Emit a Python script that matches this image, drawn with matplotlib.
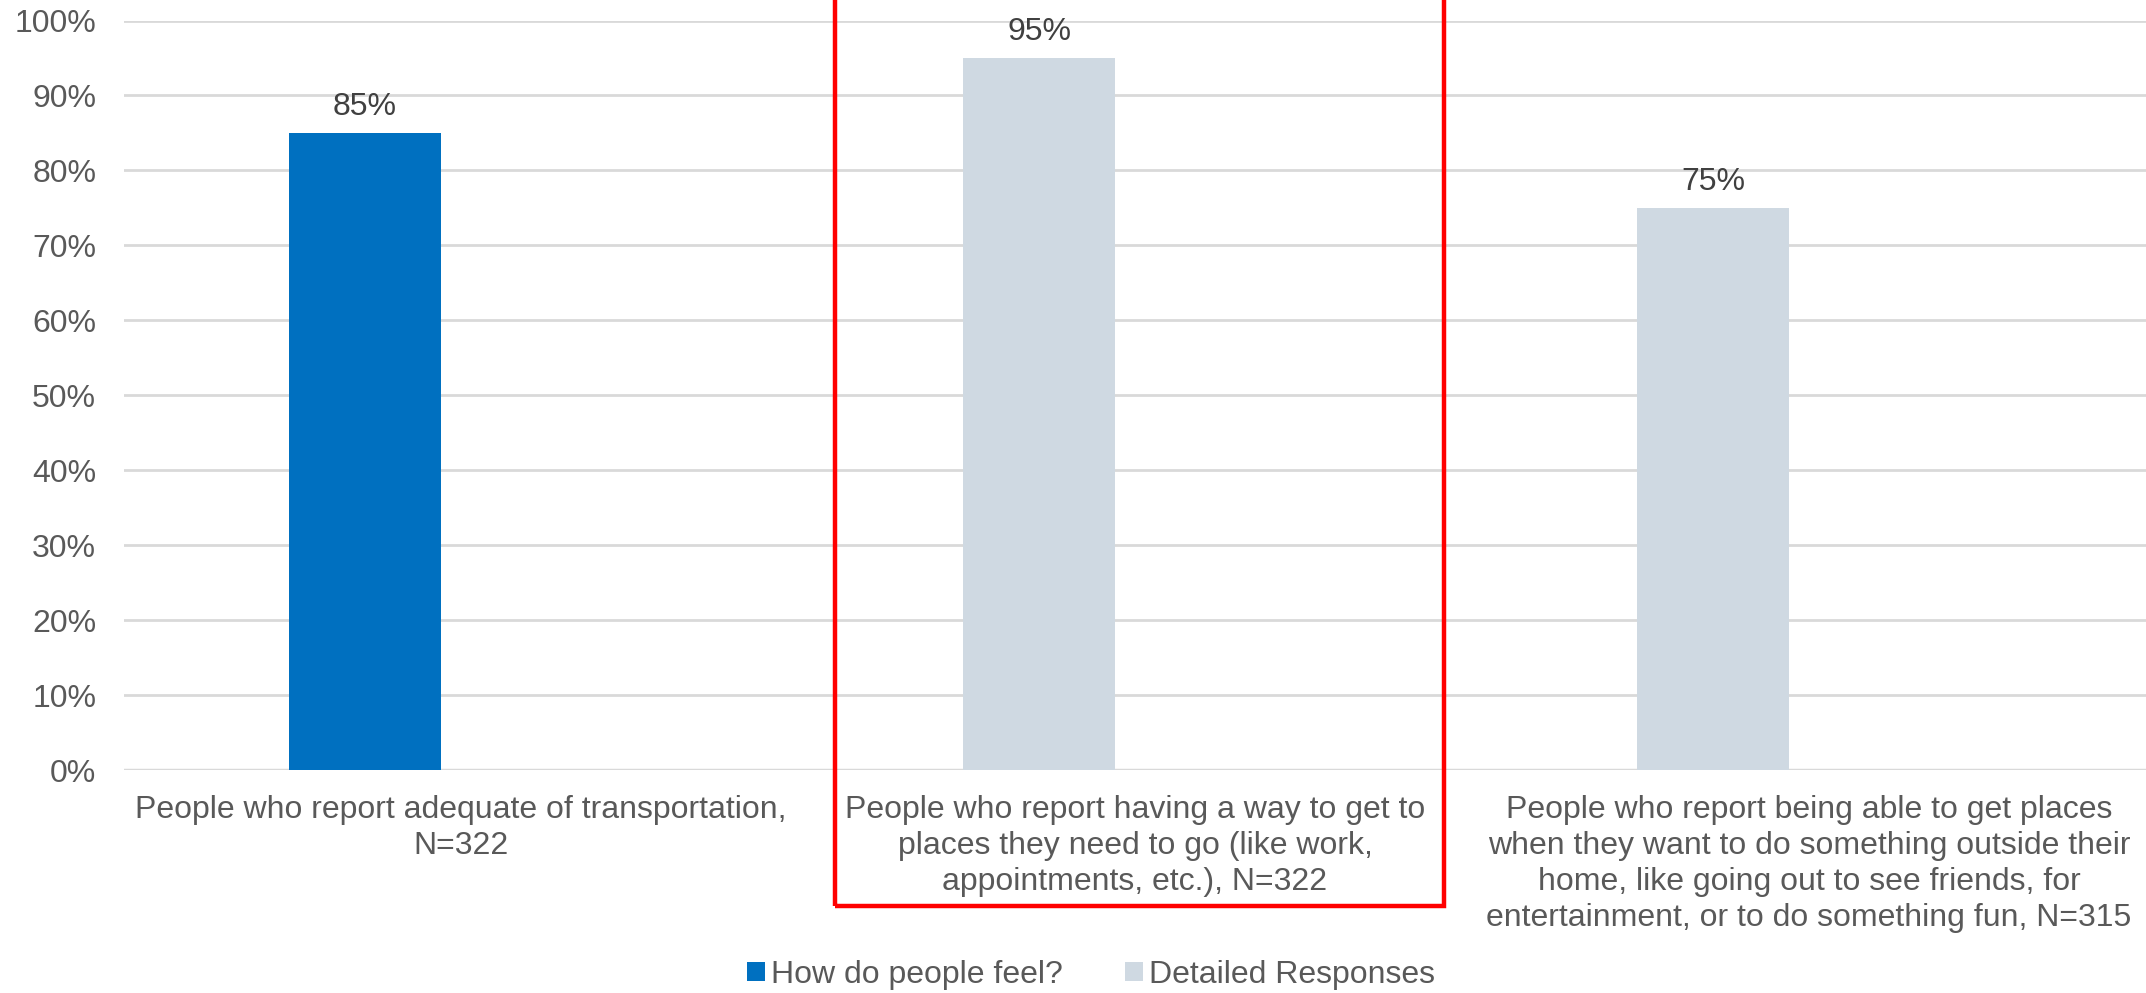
import matplotlib
matplotlib.use("Agg")
import matplotlib.pyplot as plt
from matplotlib.patches import Rectangle, Patch
from matplotlib.ticker import PercentFormatter

plt.rcParams['font.family'] = ['Liberation Sans', 'DejaVu Sans']

categories = [
    "People who report adequate of transportation,\nN=322",
    "People who report having a way to get to\nplaces they need to go (like work,\nappointments, etc.), N=322",
    "People who report being able to get places\nwhen they want to do something outside their\nhome, like going out to see friends, for\nentertainment, or to do something fun, N=315",
]
series_names = ["How do people feel?", "Detailed Responses"]
feel_values = [85, None, None]
detail_values = [None, 95, 75]
series_colors = ["#0070C0", "#CFD9E2"]

FS = 23
W, H = 2146, 993
fig = plt.figure(figsize=(W / 100, H / 100), dpi=100)
ax = fig.add_axes([124 / W, 1 - 770 / H, 1 - 124 / W, (770 - 20.5) / H])

offset = -0.1424
width = 0.2255
for vals, color in zip([feel_values, detail_values], series_colors):
    for i, v in enumerate(vals):
        if v is None:
            continue
        ax.bar(i + offset, v, width=width, color=color, zorder=3)
        ax.annotate(f"{v}%", (i + offset, v), xytext=(0, 8), textcoords="offset points",
                    ha="center", va="bottom", fontsize=FS, color="#404040")

ax.set_xlim(-0.5, 2.5)
ax.set_ylim(0, 100)
ax.set_yticks(range(0, 101, 10))
ax.yaxis.set_major_formatter(PercentFormatter(decimals=0))
ax.set_xticks(range(len(categories)))
ax.set_xticklabels(categories, linespacing=1.26)
ax.tick_params(axis="both", length=0, labelsize=FS, labelcolor="#595959")
ax.tick_params(axis="y", pad=20)
ax.tick_params(axis="x", pad=18)
ax.grid(axis="y", color="#D9D9D9", linewidth=2, zorder=0)
for s in ax.spines.values():
    s.set_visible(False)
ax.axhline(0, color="#D9D9D9", linewidth=2.5, zorder=2)

# red highlight box
fig.patches.append(Rectangle((835 / W, 1 - 906 / H), (1444 - 835) / W, 0.2 + 906 / H,
                             transform=fig.transFigure, fill=False, edgecolor="#FF0000",
                             linewidth=3.2, zorder=10))

handles = [Patch(facecolor=c, edgecolor="none") for c in series_colors]
fig.legend(handles, series_names, loc="center", bbox_to_anchor=(1091 / W, 1 - 975 / H),
           ncol=2, frameon=False, fontsize=FS, labelcolor="#595959", borderpad=0.1,
           handlelength=0.55, handleheight=0.55, handletextpad=0.2, columnspacing=1.95)

fig.savefig("out.png", dpi=100)
